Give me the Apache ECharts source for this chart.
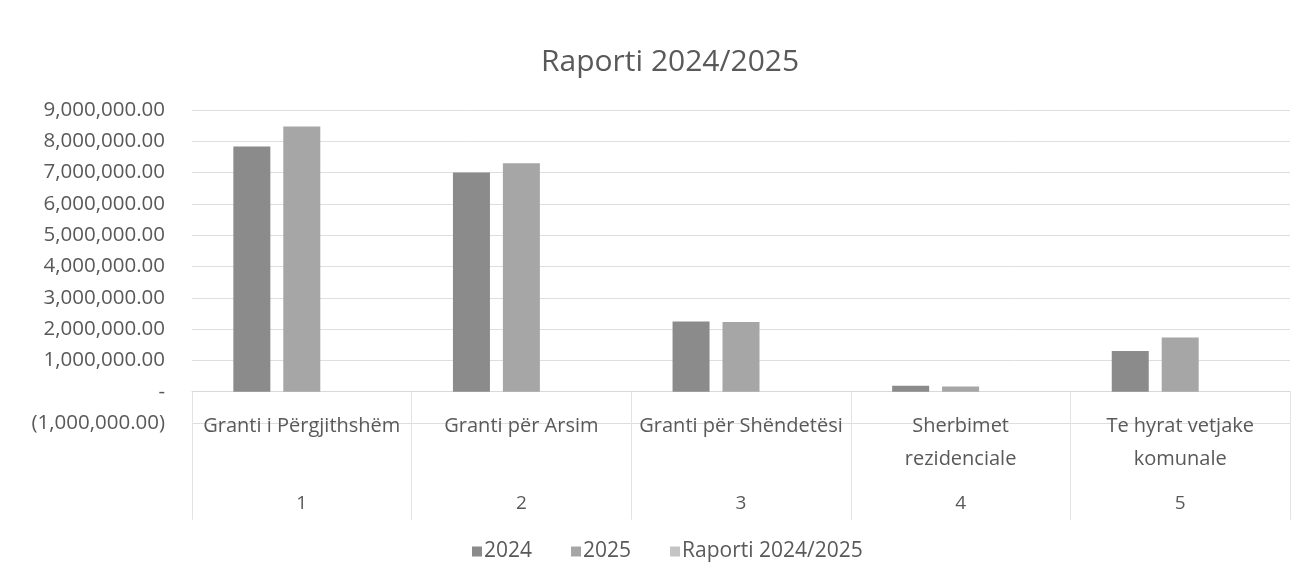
<!DOCTYPE html>
<html>
<head>
<meta charset="utf-8">
<script src="https://cdn.jsdelivr.net/npm/echarts@6/dist/echarts.min.js"></script>
<style>
html,body{margin:0;padding:0;background:#fff;}
#chart{width:1306px;height:582px;}
</style>
</head>
<body>
<div id="chart"></div>
<script>
const categories = ['Granti i Përgjithshëm', 'Granti për Arsim', 'Granti për Shëndetësi', 'Sherbimet\nrezidenciale', 'Te hyrat vetjake\nkomunale'];
const categoryNumbers = ['1', '2', '3', '4', '5'];
const values2024 = [7830000, 7000000, 2240000, 190000, 1300000];
const values2025 = [8470000, 7300000, 2230000, 170000, 1730000];
const valuesRatio = [1.08, 1.04, 0.99, 0.89, 1.33];
const seriesNames = ['2024', '2025', 'Raporti 2024/2025'];
const titleText = 'Raporti 2024/2025';

const FONT = '"Open Sans", "Noto Sans", sans-serif';
const TXT = '#595959';

function fmt(v) {
  const a = Math.abs(v);
  const s = a.toLocaleString('en-US', {minimumFractionDigits: 2, maximumFractionDigits: 2});
  if (v === 0) return '-';
  return v < 0 ? '(' + s + ')' : s;
}

const chart = echarts.init(document.getElementById('chart'), null, {renderer: 'canvas'});
chart.setOption({
  animation: false,
  backgroundColor: '#ffffff',
  title: {
    text: titleText,
    left: 536, top: 42,
    textStyle: {fontFamily: FONT, fontSize: 30, fontWeight: 'normal', color: TXT}
  },
  legend: {
    data: seriesNames,
    left: 467, top: 536,
    itemWidth: 10, itemHeight: 10, itemGap: 39,
    icon: 'rect',
    textStyle: {fontFamily: FONT, fontSize: 21, color: TXT, padding: [0, 0, 0, -3]}
  },
  grid: {left: 192, right: 16, top: 110, bottom: 159, containLabel: false},
  xAxis: [{
    type: 'category',
    data: categories,
    axisLine: {onZero: true, lineStyle: {color: '#d9d9d9', width: 1}},
    axisTick: {show: true, length: 128, lineStyle: {color: '#e3e3e3'}},
    axisLabel: {interval: 0, fontFamily: FONT, fontSize: 20, color: TXT, margin: -13, lineHeight: 33}
  }, {
    type: 'category',
    data: categoryNumbers,
    position: 'bottom',
    axisLine: {show: false, onZero: false},
    axisTick: {show: false},
    axisLabel: {interval: 0, fontFamily: FONT, fontSize: 19, color: TXT, margin: 71}
  }],
  yAxis: {
    type: 'value',
    min: -1000000, max: 9000000, interval: 1000000,
    axisLine: {show: false},
    axisTick: {show: false},
    splitLine: {lineStyle: {color: '#dedede', width: 1}},
    axisLabel: {fontFamily: FONT, fontSize: 20.5, color: TXT, margin: 27, formatter: fmt}
  },
  series: [{
    name: seriesNames[0], type: 'bar', data: values2024, barWidth: 37, barGap: '35%',
    itemStyle: {color: '#8b8b8b'}
  }, {
    name: seriesNames[1], type: 'bar', data: values2025, barWidth: 37, barGap: '35%',
    itemStyle: {color: '#a6a6a6'}
  }, {
    name: seriesNames[2], type: 'bar', data: valuesRatio, barWidth: 37, barGap: '35%',
    itemStyle: {color: '#c4c4c4'}
  }]
});
</script>
</body>
</html>
